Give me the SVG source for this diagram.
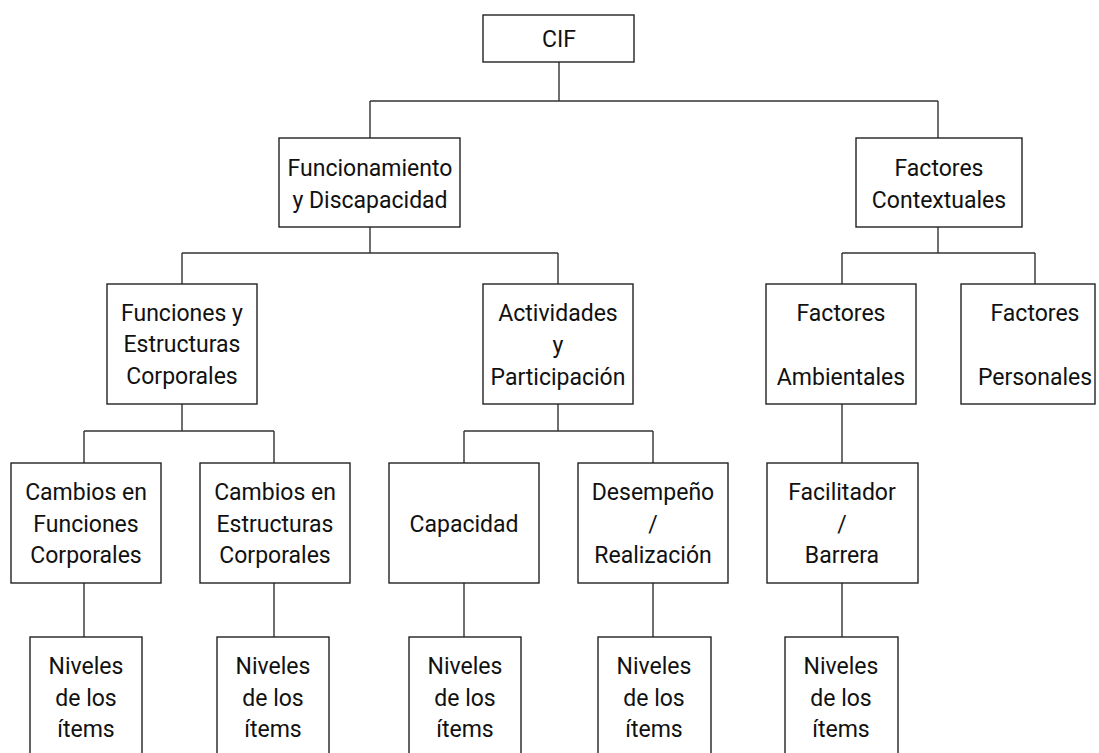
<svg xmlns="http://www.w3.org/2000/svg" width="1099" height="753" viewBox="0 0 1099 753">
<style>
.box{fill:#fff;stroke:#222;stroke-width:1.4}
.lbl{font-family:Roboto,"Liberation Sans",Arial,sans-serif;font-size:23px;fill:#111;text-anchor:middle}
#connectors path{fill:none;stroke:#333;stroke-width:1.4}
</style>
<rect width="1099" height="753" fill="#fff"/>
<g id="connectors">
<path d="M559,62V101M370,101H938M370,101V138M938,101V138"/>
<path d="M370,227V253M182,253H558M182,253V284M558,253V284"/>
<path d="M938,227V253M842,253H1035M842,253V284M1035,253V284"/>
<path d="M182,404V431M84,431H274M84,431V463M274,431V463"/>
<path d="M558,404V431M464,431H653M464,431V463M653,431V463"/>
<path d="M842,404V463"/>
<path d="M84,583V637M274,583V637M464,583V637M653,583V637M842,583V637"/>
</g>
<g id="n-cif"><rect class="box" x="483" y="15" width="151" height="47"/><text class="lbl" x="559" y="47">CIF</text></g>
<g id="n-funcionamiento"><rect class="box" x="279" y="138" width="181" height="89"/><text class="lbl" x="370" y="176">Funcionamiento</text><text class="lbl" x="370" y="208">y Discapacidad</text></g>
<g id="n-contextuales"><rect class="box" x="856" y="138" width="166" height="89"/><text class="lbl" x="939" y="176">Factores</text><text class="lbl" x="939" y="208">Contextuales</text></g>
<g id="n-funciones"><rect class="box" x="107" y="284" width="150" height="120"/><text class="lbl" x="182" y="321">Funciones y</text><text class="lbl" x="182" y="352">Estructuras</text><text class="lbl" x="182" y="384">Corporales</text></g>
<g id="n-actividades"><rect class="box" x="483" y="284" width="150" height="120"/><text class="lbl" x="558" y="321">Actividades</text><text class="lbl" x="558" y="353">y</text><text class="lbl" x="558" y="385">Participación</text></g>
<g id="n-ambientales"><rect class="box" x="766" y="284" width="150" height="120"/><text class="lbl" x="841" y="321">Factores</text><text class="lbl" x="841" y="385">Ambientales</text></g>
<g id="n-personales"><rect class="box" x="961" y="284" width="134" height="120"/><text class="lbl" x="1035" y="321">Factores</text><text class="lbl" x="1035" y="385">Personales</text></g>
<g id="n-cambios-funciones"><rect class="box" x="11" y="463" width="150" height="120"/><text class="lbl" x="86" y="500">Cambios en</text><text class="lbl" x="86" y="532">Funciones</text><text class="lbl" x="86" y="563">Corporales</text></g>
<g id="n-cambios-estructuras"><rect class="box" x="200" y="463" width="150" height="120"/><text class="lbl" x="275" y="500">Cambios en</text><text class="lbl" x="275" y="532">Estructuras</text><text class="lbl" x="275" y="563">Corporales</text></g>
<g id="n-capacidad"><rect class="box" x="389" y="463" width="150" height="120"/><text class="lbl" x="464" y="532">Capacidad</text></g>
<g id="n-desempeno"><rect class="box" x="578" y="463" width="150" height="120"/><text class="lbl" x="653" y="500">Desempeño</text><text class="lbl" x="653" y="532">/</text><text class="lbl" x="653" y="563">Realización</text></g>
<g id="n-facilitador"><rect class="box" x="767" y="463" width="151" height="120"/><text class="lbl" x="842" y="500">Facilitador</text><text class="lbl" x="842" y="532">/</text><text class="lbl" x="842" y="563">Barrera</text></g>
<g id="n-niveles-1"><rect class="box" x="30" y="637" width="112" height="130"/><text class="lbl" x="86" y="674">Niveles</text><text class="lbl" x="86" y="706">de los</text><text class="lbl" x="86" y="737">ítems</text></g>
<g id="n-niveles-2"><rect class="box" x="217" y="637" width="112" height="130"/><text class="lbl" x="273" y="674">Niveles</text><text class="lbl" x="273" y="706">de los</text><text class="lbl" x="273" y="737">ítems</text></g>
<g id="n-niveles-3"><rect class="box" x="409" y="637" width="112" height="130"/><text class="lbl" x="465" y="674">Niveles</text><text class="lbl" x="465" y="706">de los</text><text class="lbl" x="465" y="737">ítems</text></g>
<g id="n-niveles-4"><rect class="box" x="598" y="637" width="113" height="130"/><text class="lbl" x="654" y="674">Niveles</text><text class="lbl" x="654" y="706">de los</text><text class="lbl" x="654" y="737">ítems</text></g>
<g id="n-niveles-5"><rect class="box" x="785" y="637" width="113" height="130"/><text class="lbl" x="841" y="674">Niveles</text><text class="lbl" x="841" y="706">de los</text><text class="lbl" x="841" y="737">ítems</text></g>
</svg>
